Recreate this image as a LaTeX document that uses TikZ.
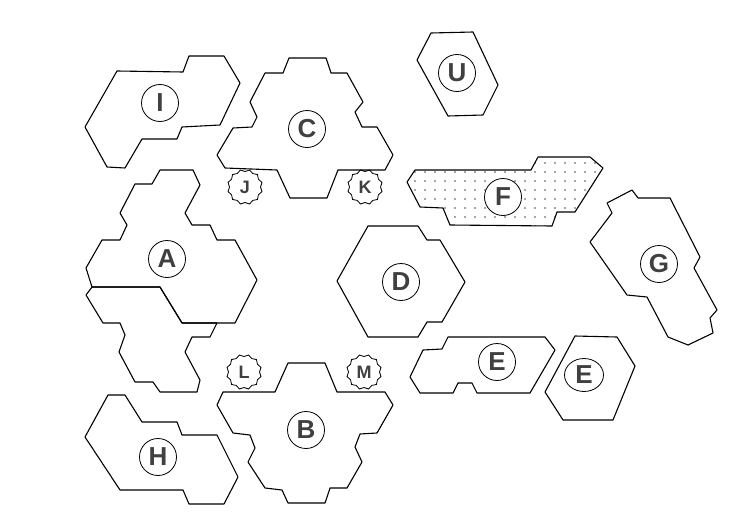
\documentclass[tikz,border=0pt]{standalone}
\usepackage{fontspec}
\setmainfont{Liberation Sans}
\usetikzlibrary{shapes.geometric}
\begin{document}
\begin{tikzpicture}[x=1pt,y=-1pt,
  hexs/.style={draw=black, line width=1.1pt, line join=round},
  ring/.style={draw, circle, fill=white, line width=0.8pt, minimum size=37pt, inner sep=0pt, font=\fontsize{26}{26}\selectfont\bfseries, text=black!75},
  ringe/.style={ring, ellipse, minimum width=39pt, minimum height=33pt},
  badge/.style={draw, star, star points=12, star point ratio=0.88, minimum size=31pt, inner sep=0pt, line width=0.8pt, font=\fontsize{18}{18}\selectfont\bfseries, text=black!75}]
\useasboundingbox (0,0) rectangle (730,519);
\fill[white] (0,0) rectangle (730,519);

% I
\draw[hexs] (85,127) -- (117,71) -- (183,72) -- (189,56) -- (224,56) -- (240,83) -- (220,125) -- (182,127) -- (177,139) -- (142,139) -- (125,168) -- (107,167) -- cycle;
% C
\draw[hexs] (289,58) -- (326,58) -- (331,73) -- (347,73) -- (363,102) -- (355,112) -- (362,127) -- (377,127) -- (393,155) -- (385,170) -- (338,170) -- (327,198) -- (290,198) -- (277,170) -- (225,168) -- (217,155) -- (233,128) -- (252,127) -- (257,117) -- (250,102) -- (265,73) -- (283,73) -- cycle;
% U
\draw[hexs] (431,33) -- (473,32) -- (498,85) -- (483,115) -- (448,116) -- (417,60) -- cycle;
% F dots
\begin{scope}
\clip (415,170) -- (531,170) -- (538,157) -- (590,157) -- (603,168) -- (575,212) -- (557,212) -- (552,226) -- (450,225) -- (443,208) -- (420,207) -- (407,182) -- cycle;
\foreach \x in {405,415,...,605} \foreach \y in {163,172,...,230} \fill[black!70] (\x,\y) circle (0.8);
\end{scope}
\draw[hexs] (415,170) -- (531,170) -- (538,157) -- (590,157) -- (603,168) -- (575,212) -- (557,212) -- (552,226) -- (450,225) -- (443,208) -- (420,207) -- (407,182) -- cycle;
% G
\draw[hexs] (607,203) -- (632,190) -- (638,198) -- (670,198) -- (700,257) -- (694,268) -- (717,310) -- (710,318) -- (713,333) -- (688,345) -- (668,337) -- (647,297) -- (627,295) -- (590,242) -- (612,213) -- cycle;
% A upper
\draw[hexs] (160,170) -- (193,170) -- (200,185) -- (185,213) -- (192,225) -- (210,225) -- (217,240) -- (235,240) -- (257,280) -- (235,323) -- (182,323) -- (160,287) -- (92,287) -- (86,268) -- (102,240) -- (120,240) -- (127,225) -- (120,213) -- (135,184) -- (152,184) -- cycle;
% A lower
\draw[hexs] (92,287) -- (160,287) -- (182,323) -- (217,323) -- (210,337) -- (192,337) -- (185,352) -- (200,380) -- (197,392) -- (160,392) -- (153,382) -- (135,382) -- (119,352) -- (125,335) -- (120,323) -- (103,323) -- (86,295) -- cycle;
% D
\draw[hexs] (368,226) -- (418,226) -- (427,240) -- (440,240) -- (465,282) -- (442,322) -- (427,322) -- (418,337) -- (368,337) -- (337,281) -- cycle;
% E left
\draw[hexs] (448,337) -- (545,337) -- (555,350) -- (530,393) -- (477,393) -- (472,383) -- (458,383) -- (453,393) -- (420,393) -- (410,377) -- (423,350) -- (442,349) -- cycle;
% E right
\draw[hexs] (575,336) -- (617,337) -- (635,366) -- (613,420) -- (563,420) -- (545,392) -- cycle;
% H
\draw[hexs] (108,395) -- (125,395) -- (142,422) -- (177,422) -- (182,435) -- (217,435) -- (238,477) -- (224,504) -- (189,504) -- (183,490) -- (120,490) -- (85,437) -- cycle;
% B
\draw[hexs] (288,363) -- (325,363) -- (337,392) -- (385,392) -- (393,405) -- (377,433) -- (360,434) -- (355,447) -- (362,462) -- (347,488) -- (330,488) -- (325,503) -- (288,503) -- (282,490) -- (265,488) -- (248,462) -- (255,448) -- (250,435) -- (233,433) -- (217,405) -- (223,392) -- (275,392) -- cycle;

% labels
\node[ring] (nI) at (160,103) {I};
\node[ring] (nC) at (307,129) {C};
\node[ring] (nU) at (457,73) {U};
\node[ring] (nF) at (503,197) {F};
\node[ring] (nG) at (659,264) {G};
\node[ring] (nA) at (167,259) {A};
\node[ring] (nD) at (401,282) {D};
\node[ring] (nE1) at (497,362) {E};
\node[ringe] (nE2) at (584,375) {E};
\node[ring] (nH) at (158,457) {H};
\node[ring] (nB) at (306,430) {B};
\node[badge] (nJ) at (245,187) {J};
\node[badge] (nK) at (365,187) {K};
\node[badge] (nL) at (244,372) {L};
\node[badge] (nM) at (364,372) {M};
\end{tikzpicture}
\end{document}
